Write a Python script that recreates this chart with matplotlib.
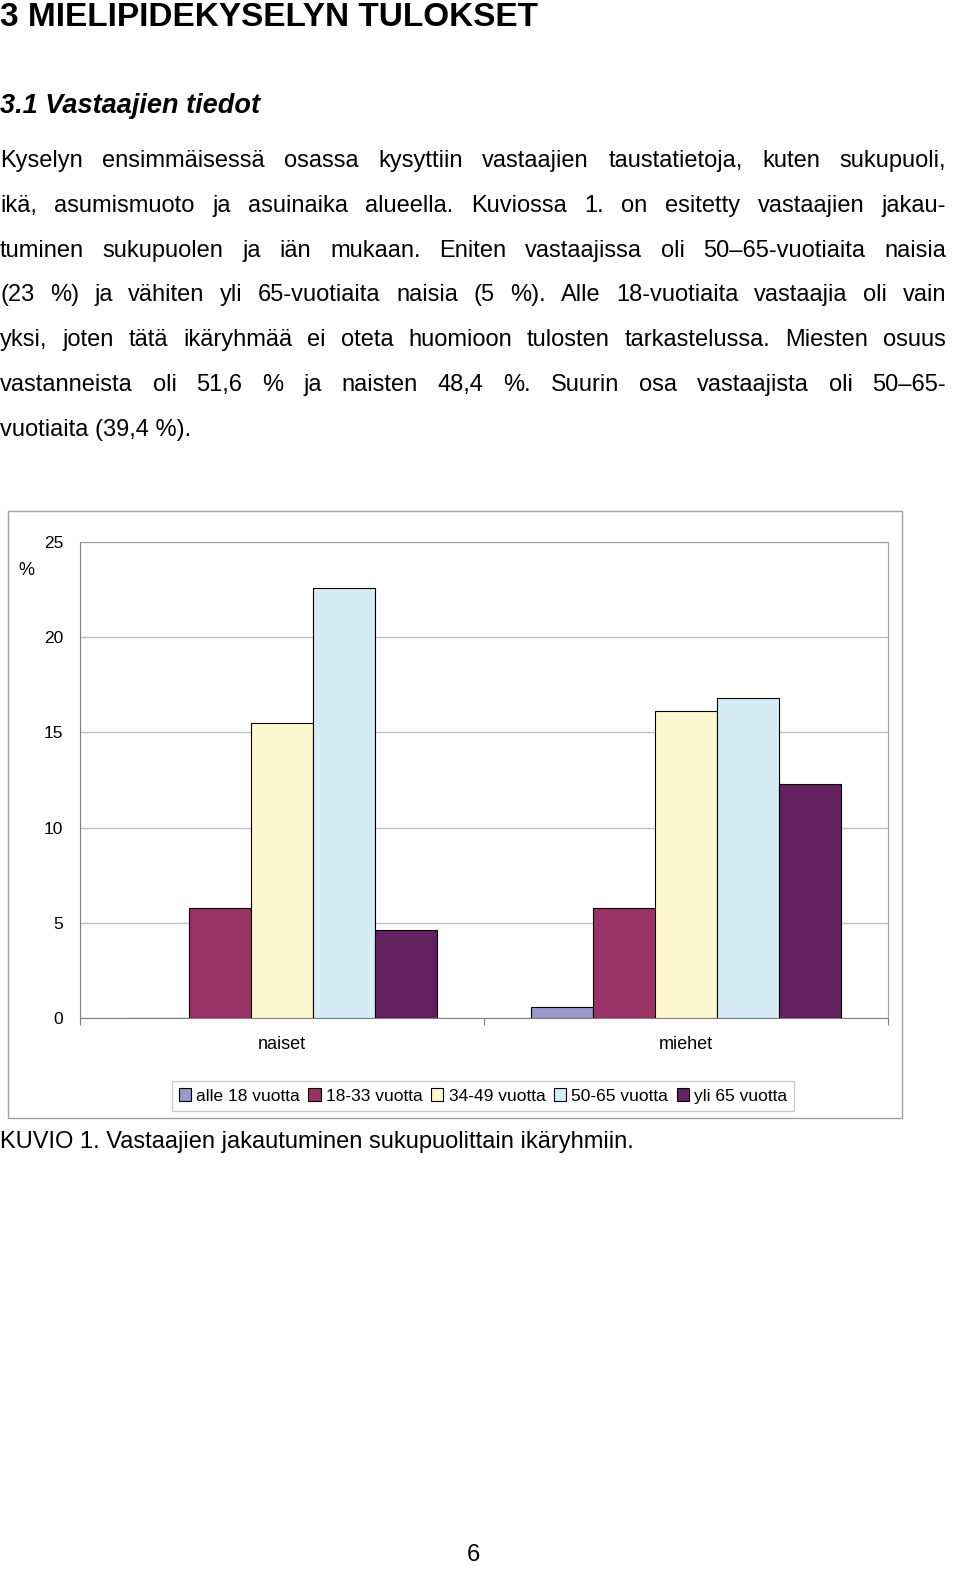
import matplotlib.pyplot as plt
from matplotlib.patches import Rectangle
import numpy as np

plt.rcParams['font.family'] = 'Liberation Sans'

W, H = 960, 1589

groups = ['naiset', 'miehet']
series = ['alle 18 vuotta', '18-33 vuotta', '34-49 vuotta', '50-65 vuotta', 'yli 65 vuotta']
values = {
    'alle 18 vuotta': [0.0, 0.6],
    '18-33 vuotta': [5.8, 5.8],
    '34-49 vuotta': [15.5, 16.1],
    '50-65 vuotta': [22.6, 16.8],
    'yli 65 vuotta': [4.6, 12.3],
}
colors = ['#9999cc', '#993366', '#fbf8d0', '#d6ecf4', '#632160']
yticks = [0, 5, 10, 15, 20, 25]

para = [
    "Kyselyn ensimmäisessä osassa kysyttiin vastaajien taustatietoja, kuten sukupuoli,",
    "ikä, asumismuoto ja asuinaika alueella. Kuviossa 1. on esitetty vastaajien jakau-",
    "tuminen sukupuolen ja iän mukaan. Eniten vastaajissa oli 50–65-vuotiaita naisia",
    "(23 %) ja vähiten yli 65-vuotiaita naisia (5 %). Alle 18-vuotiaita vastaajia oli vain",
    "yksi, joten tätä ikäryhmää ei oteta huomioon tulosten tarkastelussa. Miesten osuus",
    "vastanneista oli 51,6 % ja naisten 48,4 %. Suurin osa vastaajista oli 50–65-",
    "vuotiaita (39,4 %).",
]


def fx(px):
    return px / W


def fy(py):
    return 1 - py / H


fig = plt.figure(figsize=(W / 100, H / 100), dpi=100)
fig.text(fx(0), fy(17), "3 MIELIPIDEKYSELYN TULOKSET", fontsize=24, weight='bold', va='center')
fig.text(fx(0), fy(106), "3.1 Vastaajien tiedot", fontsize=19.5, weight='bold', style='italic', va='center')

# justified paragraph
renderer = fig.canvas.get_renderer()
left, right = 0, 946
for i, line in enumerate(para):
    y = fy(161 + i * 44.8)
    if i == len(para) - 1:
        fig.text(fx(left), y, line, fontsize=17, va='center')
        continue
    words = line.split(' ')
    texts = [fig.text(0, y, w, fontsize=17, va='center') for w in words]
    widths = [t.get_window_extent(renderer).width for t in texts]
    gap = (right - left - sum(widths)) / (len(words) - 1)
    x = left
    for t, w in zip(texts, widths):
        t.set_x(fx(x))
        x += w + gap

# chart frame
fig.add_artist(Rectangle((fx(8), fy(1118)), fx(894), (1118 - 511) / H, transform=fig.transFigure,
                         fill=False, edgecolor='#a0a0a0', lw=1))

ax = fig.add_axes([fx(80), fy(1018), fx(808), (1018 - 542) / H])
n = len(series)
bw = 0.153
x = np.arange(len(groups))
for j, s in enumerate(series):
    ax.bar(x + (j - (n - 1) / 2) * bw, values[s], bw, color=colors[j], edgecolor='black',
           lw=0.8, label=s, zorder=3)
ax.set_xlim(-0.5, 1.5)
ax.set_ylim(0, 25)
ax.set_yticks(yticks)
ax.set_yticklabels([str(v) for v in yticks], fontsize=12.5)
ax.yaxis.grid(True, color='#c0c0c0', lw=1, zorder=0)
ax.tick_params(axis='y', length=0, pad=12)
ax.set_xticks([-0.5, 0.5, 1.5])
ax.set_xticklabels([])
ax.tick_params(axis='x', length=5, color='#808080', direction='out')
for g, xi in zip(groups, x):
    ax.text(xi, -1.4, g, ha='center', va='center', fontsize=13)
for sp in ['top', 'right']:
    ax.spines[sp].set_color('#a0a0a0')
ax.spines['left'].set_color('#808080')
ax.spines['bottom'].set_color('#808080')
fig.text(fx(26), fy(570), '%', fontsize=13, ha='center', va='center')

leg = fig.legend(loc='center', bbox_to_anchor=(fx(483), fy(1096)), ncol=5, fontsize=12.5,
                 frameon=True, fancybox=False, edgecolor='#c0c0c0', handlelength=0.7,
                 handleheight=0.7, handletextpad=0.3, columnspacing=0.5, borderpad=0.4)
leg.get_frame().set_linewidth(1)

fig.text(fx(0), fy(1142), "KUVIO 1. Vastaajien jakautuminen sukupuolittain ikäryhmiin.", fontsize=17, va='center')
fig.text(fx(473), fy(1555), "6", fontsize=17, ha='center', va='center')

fig.savefig('out.png', dpi=100)
